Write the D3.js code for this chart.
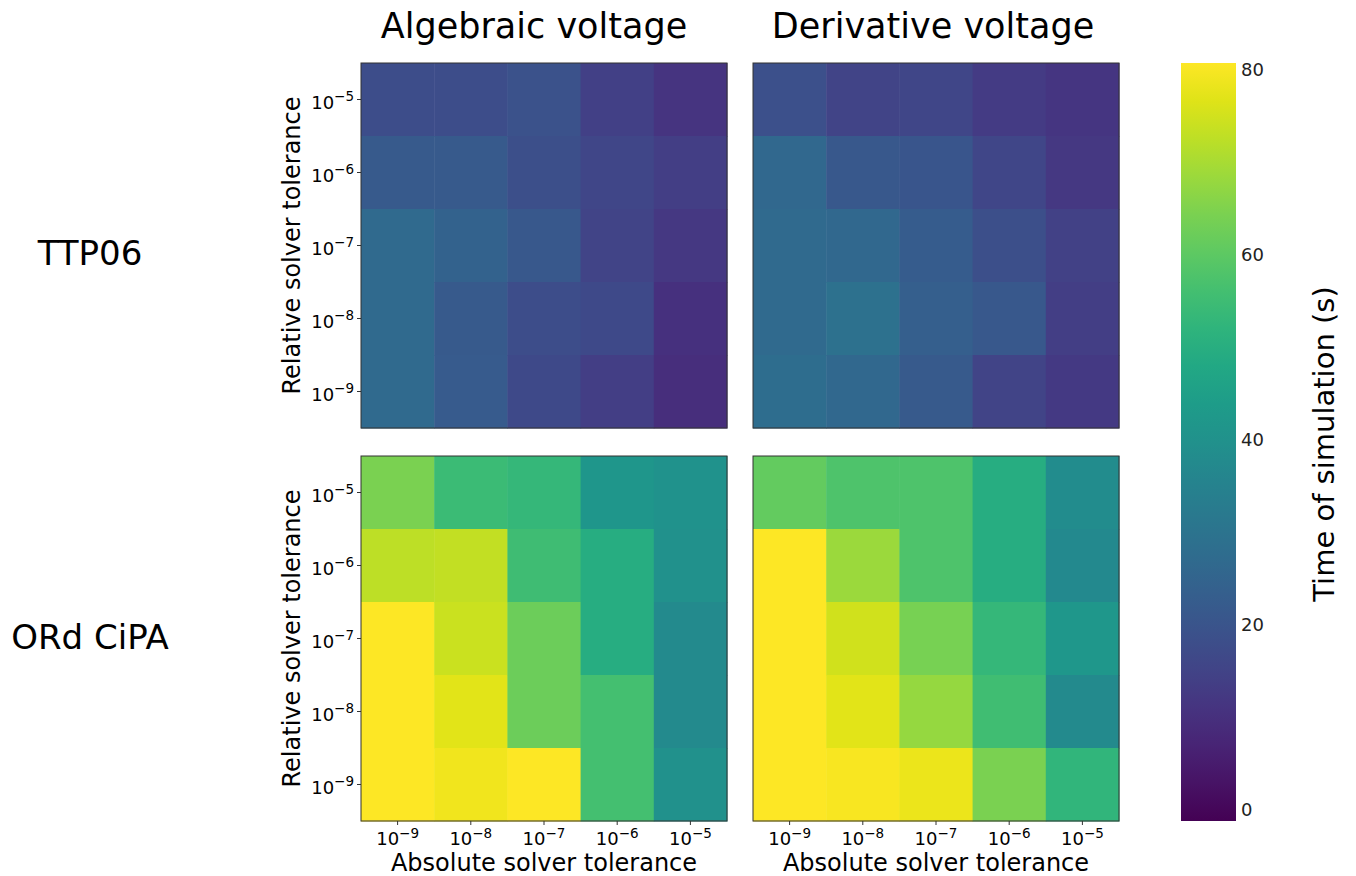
<!DOCTYPE html>
<html>
<head>
<meta charset="utf-8">
<script src="https://cdn.jsdelivr.net/npm/d3@7"></script>
<style>
  body { margin: 0; background: #fff; }
  text { font-family: "DejaVu Sans", sans-serif; fill: #000; }
</style>
</head>
<body>
<div id="chart"></div>
<script>

// tolerance exponents
var absExp = [-9, -8, -7, -6, -5];
var relExp = [-5, -6, -7, -8, -9];   // top row to bottom row

var columnTitles = ["Algebraic voltage", "Derivative voltage"];
var rowTitles = ["TTP06", "ORd CiPA"];
var cbTicks = [0, 20, 40, 60, 80];

// time of simulation (s), rows = relative tol 1e-5..1e-9, cols = absolute tol 1e-9..1e-5
var ttpAlgebraic = [
  [17.7, 17.7, 19.3, 14.4, 11.1],
  [21.8, 21.8, 18.5, 16.0, 13.6],
  [26.7, 24.2, 21.0, 15.2, 12.0],
  [26.7, 21.8, 17.7, 16.8, 10.3],
  [26.7, 22.0, 17.0, 13.6, 9.5]
];
var ttpDerivative = [
  [18.9, 15.2, 16.0, 13.2, 11.5],
  [26.3, 21.0, 20.5, 16.0, 12.0],
  [26.7, 26.3, 22.2, 18.5, 14.8],
  [26.7, 29.1, 23.4, 21.0, 13.6],
  [27.9, 26.3, 21.8, 15.2, 12.3]
];
var ordAlgebraic = [
  [64.4, 54.6, 53.3, 41.9, 40.6],
  [72.6, 73.4, 55.4, 50.0, 39.8],
  [80.5, 74.2, 62.4, 50.0, 37.8],
  [80.5, 77.0, 62.4, 56.2, 37.8],
  [80.5, 79.0, 80.5, 56.2, 39.8]
];
var ordDerivative = [
  [61.1, 57.8, 57.8, 50.0, 38.2],
  [80.5, 68.5, 57.8, 50.0, 37.3],
  [80.5, 75.0, 64.0, 53.3, 42.3],
  [80.5, 77.0, 67.7, 55.8, 37.8],
  [80.5, 80.0, 78.3, 64.4, 52.5]
];

var panels = [
  {row: 0, col: 0, data: ttpAlgebraic},
  {row: 0, col: 1, data: ttpDerivative},
  {row: 1, col: 0, data: ordAlgebraic},
  {row: 1, col: 1, data: ordDerivative}
];

var W = 1356, H = 876;
var panelX = [361, 753], panelY = [63, 456];
var pw = 366, ph = 365;

var svg = d3.select("#chart").append("svg")
    .attr("width", W)
    .attr("height", H);

var color = d3.scaleSequential(d3.interpolateViridis).domain([-1.2, 80.8]);

var x = d3.scaleBand().domain(absExp).range([0, pw]);
var y = d3.scaleBand().domain(relExp).range([0, ph]);

function powLabel(sel, e) {
  sel.append("tspan").text("10");
  sel.append("tspan")
    .attr("dy", "-0.55em")
    .style("font-size", "13.5px")
    .text("\u2212" + Math.abs(e));
}

panels.forEach(function(p) {
  var g = svg.append("g")
      .attr("transform", "translate(" + panelX[p.col] + "," + panelY[p.row] + ")");

  p.data.forEach(function(rowVals, i) {
    g.selectAll(null)
        .data(rowVals)
      .enter().append("rect")
        .attr("x", function(d, j) { return x(absExp[j]); })
        .attr("y", y(relExp[i]))
        .attr("width", x.bandwidth() + 0.5)
        .attr("height", y.bandwidth() + 0.5)
        .attr("fill", function(d) { return color(d); });
  });

  g.append("rect")
      .attr("width", pw).attr("height", ph)
      .attr("fill", "none")
      .attr("stroke", "#333")
      .attr("stroke-width", 1);

  // y axis only on left column
  if (p.col == 0) {
    relExp.forEach(function(e) {
      var cy = y(e) + y.bandwidth() / 2;
      g.append("line")
          .attr("x1", -4).attr("x2", 0)
          .attr("y1", cy).attr("y2", cy)
          .attr("stroke", "#333");
      var t = g.append("text")
          .attr("x", -7).attr("y", cy + 9)
          .attr("text-anchor", "end")
          .style("font-size", "18px");
      powLabel(t, e);
    });
    g.append("text")
        .attr("transform", "translate(-61," + (ph / 2) + ") rotate(-90)")
        .attr("text-anchor", "middle")
        .style("font-size", "24px")
        .text("Relative solver tolerance");
  }

  // x axis only on bottom row
  if (p.row == 1) {
    absExp.forEach(function(e) {
      var cx = x(e) + x.bandwidth() / 2;
      g.append("line")
          .attr("x1", cx).attr("x2", cx)
          .attr("y1", ph).attr("y2", ph + 4)
          .attr("stroke", "#333");
      var t = g.append("text")
          .attr("x", cx).attr("y", ph + 24)
          .attr("text-anchor", "middle")
          .style("font-size", "18px");
      powLabel(t, e);
    });
    g.append("text")
        .attr("x", pw / 2).attr("y", ph + 50)
        .attr("text-anchor", "middle")
        .style("font-size", "24px")
        .text("Absolute solver tolerance");
  }
});

// column titles
svg.selectAll(".coltitle")
    .data(columnTitles)
  .enter().append("text")
    .attr("class", "coltitle")
    .attr("x", function(d, i) { return [534, 933][i]; })
    .attr("y", 38)
    .attr("text-anchor", "middle")
    .style("font-size", "35px")
    .text(function(d) { return d; });

// row titles
svg.selectAll(".rowtitle")
    .data(rowTitles)
  .enter().append("text")
    .attr("class", "rowtitle")
    .attr("x", function(d, i) { return [90, 90][i]; })
    .attr("y", function(d, i) { return [265, 649][i]; })
    .attr("text-anchor", "middle")
    .style("font-size", "34px")
    .text(function(d) { return d; });

// colorbar
var cbX = 1181, cbW = 55, cbTop = 63, cbBot = 821;
var cbScale = d3.scaleLinear().domain(color.domain()).range([cbBot, cbTop]);

var grad = svg.append("defs").append("linearGradient")
    .attr("id", "cbgrad")
    .attr("x1", "0").attr("y1", "1").attr("x2", "0").attr("y2", "0");
d3.range(0, 1.0001, 0.05).forEach(function(t) {
  grad.append("stop")
      .attr("offset", t)
      .attr("stop-color", d3.interpolateViridis(t));
});

svg.append("rect")
    .attr("x", cbX).attr("y", cbTop)
    .attr("width", cbW).attr("height", cbBot - cbTop)
    .attr("fill", "url(#cbgrad)");

svg.selectAll(".cbtick")
    .data(cbTicks)
  .enter().append("text")
    .attr("class", "cbtick")
    .attr("x", cbX + cbW + 5)
    .attr("y", function(d) { return cbScale(d) + 6; })
    .style("font-size", "18px")
    .style("fill", "#222")
    .text(function(d) { return d; });

svg.append("text")
    .attr("transform", "translate(1334,444) rotate(-90)")
    .attr("text-anchor", "middle")
    .style("font-size", "29px")
    .text("Time of simulation (s)");

</script>
</body>
</html>
